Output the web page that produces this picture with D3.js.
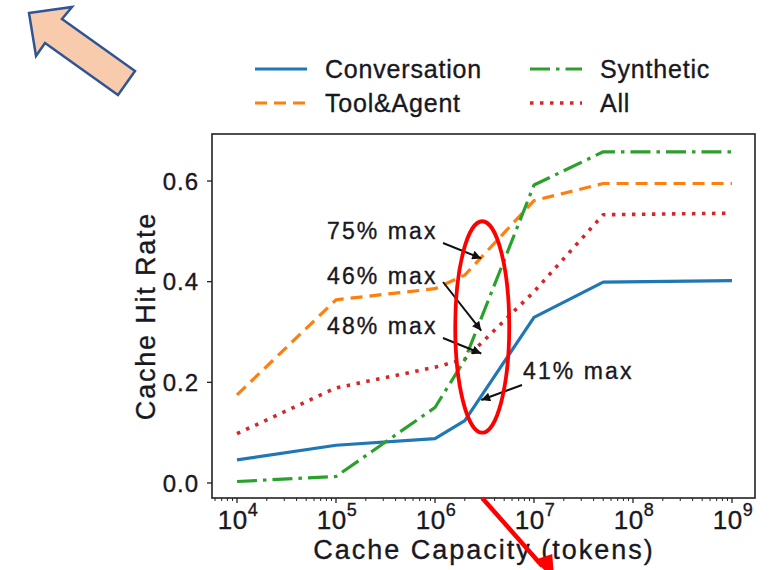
<!DOCTYPE html>
<html>
<head>
<meta charset="utf-8">
<script src="https://cdn.jsdelivr.net/npm/d3@7"></script>
<style>
  html, body { margin: 0; padding: 0; background: #fff; }
  svg { display: block; }
  text { font-family: "Liberation Sans", Arial, sans-serif; fill: #18181f; stroke: #18181f; stroke-width: 0.35px; }
</style>
</head>
<body>
<svg id="chart" width="770" height="570"></svg>
<script>
// ---------- data ----------
const capacities = [1e4, 1e5, 1e6, 2e6, 1e7, 5e7, 1e9];
const conversation = [0.046, 0.075, 0.088, 0.124, 0.329, 0.399, 0.402];
const toolAgent    = [0.175, 0.364, 0.386, 0.413, 0.561, 0.595, 0.595];
const synthetic    = [0.003, 0.013, 0.150, 0.245, 0.592, 0.658, 0.658];
const allWorkloads = [0.098, 0.189, 0.230, 0.246, 0.380, 0.533, 0.536];
const seriesNames  = ["Conversation", "Tool&Agent", "Synthetic", "All"];
const xTickExponents = [4, 5, 6, 7, 8, 9];
const yTicks = [0.0, 0.2, 0.4, 0.6];
const highlightCapacity = 3e6;
const annotationLabels = ["75% max", "46% max", "48% max", "41% max"];
const annotationSeries = ["Tool&Agent", "Synthetic", "All", "Conversation"];
const annotationFractions = [0.75, 0.46, 0.48, 0.41];

// ---------- layout ----------
const svg = d3.select("#chart");
const x = d3.scaleLog().domain([1e4, 1e9]).range([237, 732]);
const y = d3.scaleLinear().domain([0, 0.6]).range([483, 181]);
const frame = { left: 212, right: 755, top: 134, bottom: 498 };

const colors = { "Conversation": "#1f77b4", "Tool&Agent": "#ff7f0e", "Synthetic": "#2ca02c", "All": "#d62728" };
const dashes = { "Conversation": null, "Tool&Agent": "12,7", "Synthetic": "20,6,3.5,6", "All": "3.5,6.5" };
const values = { "Conversation": conversation, "Tool&Agent": toolAgent, "Synthetic": synthetic, "All": allWorkloads };

// ---------- big peach arrow (decoration) ----------
svg.append("polygon")
  .attr("points", "29,13 72,7 62,19 135,71 118,95 45,43 36,56")
  .attr("fill", "#F8CBAD").attr("stroke", "#2F5597").attr("stroke-width", 2.5)
  .attr("stroke-linejoin", "miter");

// ---------- defs ----------
const defs = svg.append("defs");
defs.append("marker").attr("id", "blackHead")
  .attr("viewBox", "0 0 10 10").attr("refX", 10).attr("refY", 5)
  .attr("markerWidth", 13).attr("markerHeight", 9).attr("markerUnits", "userSpaceOnUse")
  .attr("orient", "auto")
  .append("path").attr("d", "M0,0 L10,5 L0,10 Z").attr("fill", "#111");
defs.append("clipPath").attr("id", "plotClip").append("rect")
  .attr("x", frame.left).attr("y", frame.top)
  .attr("width", frame.right - frame.left).attr("height", frame.bottom - frame.top);

// ---------- lines ----------
const line = d3.line().x((d, i) => x(capacities[i])).y(d => y(d));
const plot = svg.append("g").attr("clip-path", "url(#plotClip)");
["Conversation", "All", "Tool&Agent", "Synthetic"].forEach(name => {
  plot.append("path")
    .datum(values[name])
    .attr("d", line)
    .attr("fill", "none")
    .attr("stroke", colors[name])
    .attr("stroke-width", name === "All" ? 3.6 : 3.2)
    .attr("stroke-dasharray", dashes[name])
    .attr("stroke-linejoin", "round");
});

// ---------- frame ----------
svg.append("rect")
  .attr("x", frame.left).attr("y", frame.top)
  .attr("width", frame.right - frame.left).attr("height", frame.bottom - frame.top)
  .attr("fill", "none").attr("stroke", "#222").attr("stroke-width", 1.6);

// ---------- y axis ----------
const yAxis = svg.append("g");
yTicks.forEach(v => {
  yAxis.append("line").attr("x1", frame.left - 5).attr("x2", frame.left)
    .attr("y1", y(v)).attr("y2", y(v)).attr("stroke", "#222").attr("stroke-width", 1.3);
  yAxis.append("text").attr("x", frame.left - 13).attr("y", y(v) + 8.5)
    .attr("text-anchor", "end").attr("font-size", 24).attr("letter-spacing", 1)
    .text(v.toFixed(1));
});
svg.append("text")
  .attr("transform", `translate(155,316) rotate(-90)`)
  .attr("text-anchor", "middle").attr("font-size", 27).attr("letter-spacing", 1.8)
  .text("Cache Hit Rate");

// ---------- x axis ----------
const xAxis = svg.append("g");
const xAxisScale = x.copy().domain([x.invert(frame.left), x.invert(frame.right)]).range([frame.left, frame.right]);
const minor = [];
for (let e = 3; e <= 9; e++) for (let m = 2; m <= 9; m++) {
  const v = m * Math.pow(10, e);
  const px = xAxisScale(v);
  if (px >= frame.left && px <= frame.right) minor.push(v);
}
minor.forEach(v => {
  xAxis.append("line").attr("x1", xAxisScale(v)).attr("x2", xAxisScale(v))
    .attr("y1", frame.bottom).attr("y2", frame.bottom + 3)
    .attr("stroke", "#222").attr("stroke-width", 1);
});
xTickExponents.forEach(e => {
  const px = x(Math.pow(10, e));
  xAxis.append("line").attr("x1", px).attr("x2", px)
    .attr("y1", frame.bottom).attr("y2", frame.bottom + 5)
    .attr("stroke", "#222").attr("stroke-width", 1.3);
  const t = xAxis.append("text").attr("x", px + 1).attr("y", 529)
    .attr("text-anchor", "middle").attr("font-size", 26).attr("letter-spacing", 0.5);
  t.append("tspan").text("10");
  t.append("tspan").attr("dy", -13).attr("font-size", 18).text(String(e));
});
svg.append("text")
  .attr("x", 484).attr("y", 559)
  .attr("text-anchor", "middle").attr("font-size", 27).attr("letter-spacing", 2)
  .text("Cache Capacity (tokens)");

// ---------- legend ----------
const legendPos = {
  "Conversation": [255, 69], "Synthetic": [530, 69],
  "Tool&Agent": [255, 103], "All": [530, 103]
};
seriesNames.forEach(name => {
  const [lx, ly] = legendPos[name];
  svg.append("line").attr("x1", lx).attr("x2", lx + 52).attr("y1", ly).attr("y2", ly)
    .attr("stroke", colors[name]).attr("stroke-width", name === "All" ? 3.6 : 3.2)
    .attr("stroke-dasharray", dashes[name]);
  svg.append("text").attr("x", lx + 70).attr("y", ly + 9)
    .attr("font-size", 25).attr("letter-spacing", 0.8).text(name);
});

// ---------- annotations ----------
const labelPos = [[327, 239, 443, 243], [327, 284, 443, 282], [327, 334, 443, 338], [523, 379, 522, 385]];
annotationLabels.forEach((lab, i) => {
  const s = annotationSeries[i];
  const maxV = d3.max(values[s]);
  const tx = x(highlightCapacity), ty = y(maxV * annotationFractions[i]);
  const [lx, ly, ax, ay] = labelPos[i];
  svg.append("text").attr("x", lx).attr("y", ly)
    .attr("font-size", 23).attr("letter-spacing", 2.1).text(lab);
  svg.append("line").attr("x1", ax).attr("y1", ay).attr("x2", tx - 1).attr("y2", ty)
    .attr("stroke", "#111").attr("stroke-width", 2).attr("marker-end", "url(#blackHead)");
});

// ---------- red ellipse ----------
svg.append("ellipse")
  .attr("cx", x(highlightCapacity)).attr("cy", y(0.31))
  .attr("rx", 27).attr("ry", y(0.1) - y(0.31))
  .attr("fill", "none").attr("stroke", "#ff0000").attr("stroke-width", 3.8);

// ---------- red arrow at bottom ----------
const rx0 = x(highlightCapacity), ry0 = frame.bottom;
svg.append("line").attr("x1", rx0).attr("y1", ry0).attr("x2", rx0 + 60).attr("y2", ry0 + 68)
  .attr("stroke", "#ff0000").attr("stroke-width", 4.5);
svg.append("path")
  .attr("d", `M${rx0 + 52},${ry0 + 62} L${rx0 + 70},${ry0 + 56} L${rx0 + 72},${ry0 + 82} Z`)
  .attr("fill", "#ff0000");
</script>
</body>
</html>
